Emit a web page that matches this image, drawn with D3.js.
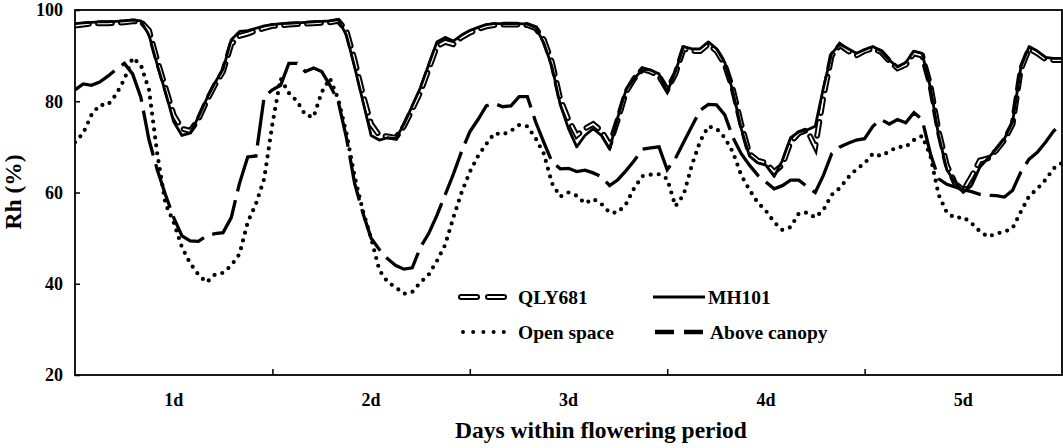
<!DOCTYPE html>
<html>
<head>
<meta charset="utf-8">
<script src="https://cdn.jsdelivr.net/npm/d3@7"></script>
<style>
  body { margin: 0; background: #fff; }
  text { font-family: "Times New Roman", "Liberation Serif", serif; font-weight: bold; fill: #000; }
</style>
</head>
<body>
<div id="chart"></div>
<script>
// Hourly relative humidity over five flowering days (hour 0..120)
const dayLabels = ["1d", "2d", "3d", "4d", "5d"];
const yTicks = [20, 40, 60, 80, 100];

const qly681 = [
  96.6, 96.8, 97, 97.1, 97.1, 97.2, 97.3, 97.5, 97.5, 95.5, 89, 83, 77, 74, 73.5, 76, 80, 83.5, 86.5, 92.5, 94.3, 94.8, 95.5, 96, 96.5,
  96.6, 96.8, 96.9, 97, 97.1, 97.2, 97.3, 97.6, 95.5, 89, 81.5, 75, 72.5, 72.3, 72, 74.5, 78.2, 82, 87, 92, 93, 92.5, 94,
  95, 95.8, 96.4, 96.7, 96.8, 96.8, 96.8, 96.7, 96, 93.5, 88.5, 80.5, 76, 72.5, 74, 75, 73.5, 70.5, 76, 82, 85, 87, 86.5, 85.5, 82.5,
  86, 91.5, 91, 91, 92.5, 91, 88, 82.5, 75, 68.5, 67, 66.5, 64.5, 66, 71, 73, 73.7, 70, 81, 90, 92.3, 91, 90, 91,
  91.6, 90.8, 88.8, 87.2, 88, 90.5, 90, 83.5, 73.5, 66, 62, 60.5, 63.5, 67, 67.5, 69.2, 71.5, 75, 87, 91.5, 90.5, 89.2, 89, 89
];

const mh101 = [
  97, 97.2, 97.3, 97.4, 97.4, 97.5, 97.6, 97.8, 97.6, 94.5, 88, 82, 75.5, 72.5, 73, 76.5, 80.5, 84, 87, 93.5, 95.3, 95.5, 96, 96.5, 96.8,
  97, 97.1, 97.2, 97.3, 97.4, 97.5, 97.6, 97.9, 94.5, 87.5, 80, 72.5, 71.5, 72, 71.8, 75, 79, 83, 88, 93, 94, 93.2, 94.5,
  95.5, 96.2, 96.8, 97, 97, 97, 97, 96.9, 96.2, 92.8, 87.5, 79.2, 74, 70, 72.5, 74, 72.5, 69.5, 76.5, 82.5, 85, 87, 86.8, 86, 82,
  86.5, 92, 91.5, 91.5, 93, 91.5, 88.5, 82, 74, 68, 66.5, 66, 63.5, 67, 72, 73.3, 73.7, 74.5, 83, 90.5, 92.5, 91.5, 90.5, 91.3,
  92, 91, 89, 87.5, 88.5, 91, 90.5, 83, 72.5, 65, 62.2, 60, 61.5, 65.5, 67.5, 69.5, 71.8, 75.5, 87.5, 92, 91, 89.6, 89.4, 89.4
];

const openSpace = [
  71, 73, 77, 79.2, 79.2, 81.5, 84.8, 89.5, 88, 82.5, 68.5, 57.5, 53.5, 48, 44.5, 42, 40.3, 42, 42.4, 44, 46.5, 53.5, 57.5, 63, 75,
  85, 81.8, 80, 77, 76.5, 82, 85, 80.5, 73, 63.5, 56, 50, 43, 40.4, 39.2, 37.8, 38.2, 40.3, 42, 45, 48.5, 54.5, 60,
  64.5, 68, 70.6, 73, 72.7, 73.5, 74.8, 74.5, 71.9, 68.5, 62, 59.1, 60, 59.3, 57.6, 58.6, 57.5, 55.6, 55.6, 57.5, 61, 63.6, 63.9, 64, 63,
  57, 59.5, 66, 71.2, 74.5, 74, 72, 68.8, 63.8, 60.6, 57.8, 56, 53.5, 51.8, 52.4, 55.4, 55.6, 54.5, 56.2, 59.5, 61, 63.3, 65.1, 66.4,
  68.5, 68, 69, 70, 70, 71.5, 72.4, 68, 59.5, 55.6, 54.4, 54.6, 53.3, 51.5, 50.3, 51, 51.4, 52.2, 55.8, 59.2, 60.8, 62.8, 65.3, 66.5
];

const aboveCanopy = [
  82.5, 83.8, 83.5, 84.2, 85.5, 87, 88.3, 86, 80.9, 71.5, 65, 59.5, 54.5, 50.5, 49.4, 49.3, 50.5, 51, 51.2, 54.5, 62, 67.8, 68, 81, 82.5,
  83.5, 88.3, 88.3, 86.5, 87.3, 86.5, 83.5, 80, 72, 62, 55.5, 50, 47.5, 45.5, 44, 43.2, 43.5, 48, 51, 55, 59.5, 64, 69,
  73.3, 76, 79, 79.5, 78.8, 79, 81, 81, 75.5, 71, 66.7, 65.2, 65.3, 64.6, 64.9, 64.3, 63.5, 61.5, 62.8, 64.8, 67, 69.5, 69.8, 70, 65,
  67.5, 71, 74.5, 78, 79.3, 79.2, 77, 72, 68.5, 66, 63.8, 62.3, 60.8, 61.5, 62.7, 62.7, 61.3, 60, 63.8, 68.5, 70, 70.8, 71.5, 71.8,
  74.5, 76, 75, 76, 75.3, 77.5, 76, 68.5, 63, 61.8, 61.2, 60.6, 60.2, 59.6, 59.4, 59.3, 59, 60.5, 64.5, 67.3, 68.8, 71, 73.5, 75
];

const width = 1063;
const height = 448;
const margin = { top: 10, right: 1, bottom: 73, left: 75 };

const svg = d3.select("#chart").append("svg")
    .attr("width", width)
    .attr("height", height);

const x = d3.scaleLinear().domain([0, 120]).range([margin.left, width - margin.right]);
const y = d3.scaleLinear().domain([20, 100]).range([height - margin.bottom, margin.top]);

svg.append("clipPath").attr("id", "plot")
  .append("rect")
    .attr("x", margin.left).attr("y", margin.top)
    .attr("width", x(120) - margin.left).attr("height", y(20) - margin.top);

const line = d3.line().x((d, i) => x(i)).y(d => y(d));

const g = svg.append("g").attr("clip-path", "url(#plot)");

// Above canopy - long dash
g.append("path").datum(aboveCanopy)
    .attr("d", line).attr("fill", "none").attr("stroke", "#000")
    .attr("stroke-width", 3.3).attr("stroke-dasharray", "46,9");

// Open space - dotted
g.append("path").datum(openSpace)
    .attr("d", line).attr("fill", "none").attr("stroke", "#000")
    .attr("stroke-width", 4.2).attr("stroke-linecap", "round")
    .attr("stroke-dasharray", "0,8");

// QLY681 - hollow dash (black outline, white core)
g.append("path").datum(qly681)
    .attr("d", line).attr("fill", "none").attr("stroke", "#000")
    .attr("stroke-width", 5.8).attr("stroke-linecap", "round")
    .attr("stroke-dasharray", "14,9");
g.append("path").datum(qly681)
    .attr("d", line).attr("fill", "none").attr("stroke", "#fff")
    .attr("stroke-width", 1.8).attr("stroke-linecap", "round")
    .attr("stroke-dasharray", "14,9");

// MH101 - solid
g.append("path").datum(mh101)
    .attr("d", line).attr("fill", "none").attr("stroke", "#000")
    .attr("stroke-width", 2.8).attr("stroke-linejoin", "round");

// Frame
svg.append("rect")
    .attr("x", margin.left).attr("y", margin.top)
    .attr("width", x(120) - margin.left).attr("height", y(20) - margin.top)
    .attr("fill", "none").attr("stroke", "#000").attr("stroke-width", 1.8);

// Y axis
const yAxis = svg.append("g")
    .attr("transform", `translate(${margin.left},0)`)
    .call(d3.axisLeft(y).tickValues(yTicks).tickSizeInner(-5).tickSizeOuter(0).tickPadding(12));
yAxis.select(".domain").remove();
yAxis.selectAll("line").attr("stroke-width", 1.5);
yAxis.selectAll("text").style("font-size", "18px").attr("fill", "#000");

// X axis: day boundaries as inside ticks, labels centred in each day
const xAxis = svg.append("g")
    .attr("transform", `translate(0,${y(20)})`)
    .call(d3.axisBottom(x).tickValues([24, 48, 72, 96]).tickSizeInner(-6).tickSizeOuter(0).tickFormat(""));
xAxis.select(".domain").remove();
xAxis.selectAll("line").attr("stroke-width", 1.5);

svg.append("g").selectAll("text")
  .data(dayLabels)
  .enter()
  .append("text")
    .attr("x", (d, i) => x(i * 24 + 12))
    .attr("y", 406)
    .attr("text-anchor", "middle")
    .style("font-size", "18px")
    .text(d => d);

// Axis titles
svg.append("text")
    .attr("x", 601).attr("y", 438)
    .attr("text-anchor", "middle")
    .style("font-size", "23.5px")
    .text("Days within flowering period");

svg.append("text")
    .attr("transform", "translate(21,192) rotate(-90)")
    .attr("text-anchor", "middle")
    .style("font-size", "23.5px")
    .text("Rh (%)");

// Legend
const legend = svg.append("g");
const rows = [
  { name: "QLY681", x1: 461, x2: 509, y: 297, tx: 518 },
  { name: "MH101", x1: 653, x2: 705, y: 297, tx: 708 },
  { name: "Open space", x1: 463, x2: 504, y: 332, tx: 518 },
  { name: "Above canopy", x1: 655, x2: 703, y: 332, tx: 710 }
];

function legendLine(r) {
  return legend.append("line")
      .attr("x1", r.x1).attr("x2", r.x2).attr("y1", r.y).attr("y2", r.y)
      .attr("stroke", "#000");
}

legendLine(rows[0]).attr("stroke-width", 6).attr("stroke-linecap", "round").attr("stroke-dasharray", "16,11");
legendLine(rows[0]).attr("stroke", "#fff").attr("stroke-width", 2).attr("stroke-linecap", "round").attr("stroke-dasharray", "16,11");
legendLine(rows[1]).attr("stroke-width", 3);
legendLine(rows[2]).attr("stroke-width", 4).attr("stroke-linecap", "round").attr("stroke-dasharray", "0,10.2");
legendLine(rows[3]).attr("stroke-width", 4.5).attr("stroke-dasharray", "19,10");

legend.selectAll("text")
  .data(rows)
  .enter()
  .append("text")
    .attr("x", d => d.tx)
    .attr("y", d => d.y + 7)
    .style("font-size", "19.5px")
    .text(d => d.name);
</script>
</body>
</html>
